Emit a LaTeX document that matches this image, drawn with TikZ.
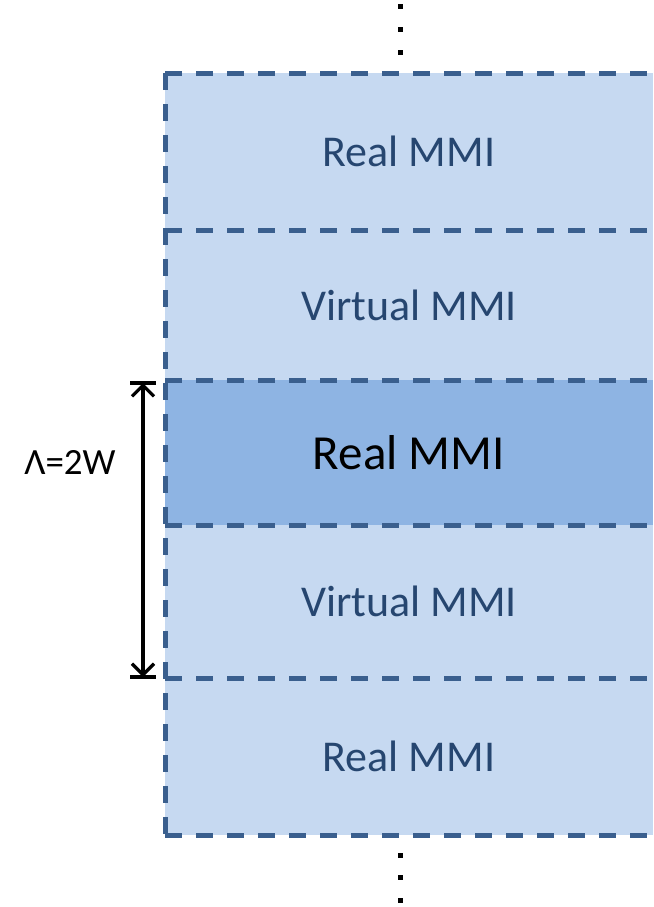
\documentclass[tikz,border=0pt]{standalone}
\usepackage{fontspec}
\setmainfont{Carlito}
\usetikzlibrary{arrows.meta}
\definecolor{lightfill}{HTML}{C6D9F1}
\definecolor{darkfill}{HTML}{8EB4E3}
\definecolor{edgeblue}{HTML}{3A5F8E}
\definecolor{txtblue}{HTML}{264670}
\tikzset{
  box/.style={draw=none, minimum width=488pt, inner sep=0pt, outer sep=0pt},
  boxtext/.style={font=\fontsize{44}{52}\selectfont, text=txtblue},
  dashline/.style={draw=edgeblue, line width=5pt, dash pattern=on 17pt off 14pt},
  dotsq/.style={fill=black, minimum size=5pt, inner sep=0pt},
  dim/.style={line width=3.2pt, black}
}
\begin{document}
\begin{tikzpicture}[x=1pt,y=1pt]
\useasboundingbox (0,0) rectangle (653,-907);
% boxes
\node[box, fill=lightfill, minimum height=157pt, boxtext] (r1) at (409,-151.5) {\raisebox{-3pt}{Real MMI}};
\node[box, fill=lightfill, minimum height=150pt, boxtext] (v1) at (409,-305) {Virtual MMI};
\node[box, fill=darkfill, minimum height=145pt, font=\fontsize{49}{58}\selectfont, text=black] (r2) at (409,-452.5) {\raisebox{-4pt}{Real MMI}};
\node[box, fill=lightfill, minimum height=153pt, boxtext] (v2) at (409,-601.5) {\raisebox{-4pt}{Virtual MMI}};
\node[box, fill=lightfill, minimum height=157pt, boxtext] (r3) at (409,-756.5) {\raisebox{-3pt}{Real MMI}};
% dashed borders
\draw[dashline] (r1.north west) -- (r1.north east);
\draw[dashline] (r1.south west) -- (r1.south east);
\draw[dashline] (v1.south west) -- (v1.south east);
\draw[dashline] (r2.south west) -- (r2.south east);
\draw[dashline] (v2.south west) -- (v2.south east);
\draw[dashline] (r3.south west) -- (r3.south east);
\draw[dashline] (r1.north west) -- (r3.south west);
% dots
\node[dotsq] (t1) at (400,-7) {};
\node[dotsq] (t2) at (400,-30) {};
\node[dotsq] (t3) at (400,-53) {};
\node[dotsq] (b1) at (400,-855) {};
\node[dotsq] (b2) at (400,-877) {};
\node[dotsq] (b3) at (400,-900) {};
% dimension arrow
\coordinate (atop) at (143,-383);
\coordinate (abot) at (143,-677);
\draw[dim, -{Straight Barb[length=11pt,width=22pt,line width=3.2pt]}] (abot) -- (atop);
\draw[dim, -{Straight Barb[length=11pt,width=22pt,line width=3.2pt]}] (atop) -- (abot);
\draw[dim] ([xshift=-13pt]atop) -- ([xshift=13pt]atop);
\draw[dim] ([xshift=-13pt]abot) -- ([xshift=13pt]abot);
\node[font=\fontsize{37}{44}\selectfont, text=black] (lab) at (70,-462) {Λ=2W};
\end{tikzpicture}
\end{document}
